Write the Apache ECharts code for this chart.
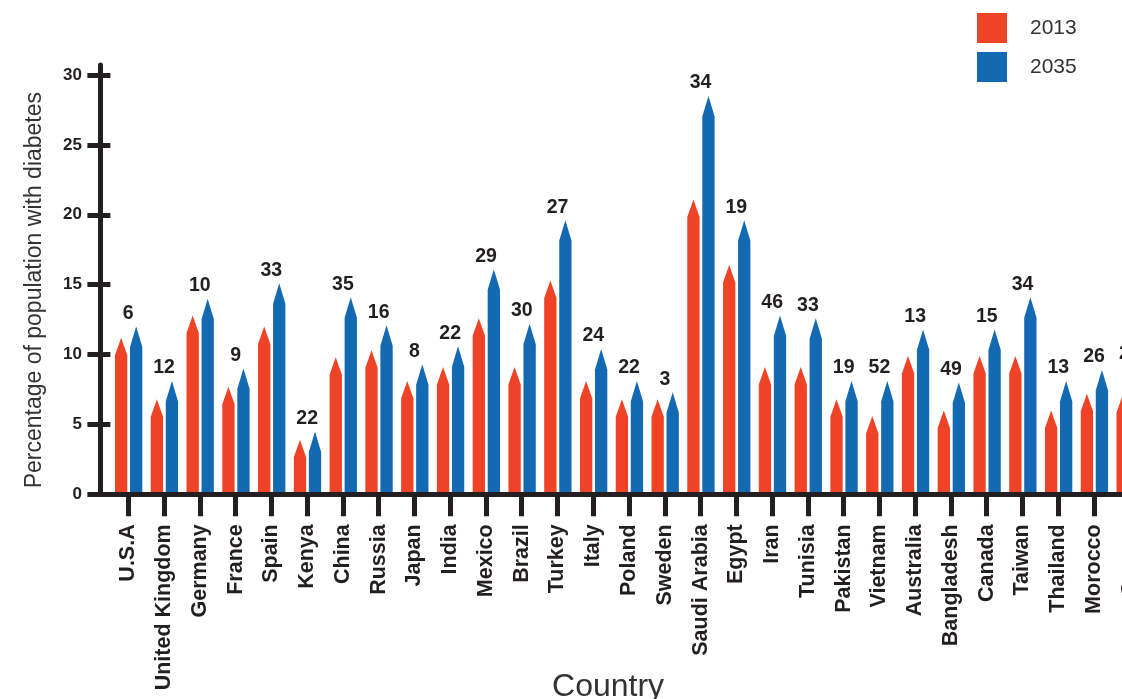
<!DOCTYPE html>
<html>
<head>
<meta charset="utf-8">
<title>Percentage of population with diabetes, 2013 and 2035</title>
<script src="https://cdn.jsdelivr.net/npm/echarts@6/dist/echarts.min.js"></script>
<style>
  html, body { margin: 0; padding: 0; background: #ffffff; }
  #chart { width: 1122px; height: 699px; }
</style>
</head>
<body>
<div id="chart"></div>
<script>
// Countries along the category axis
const countries = [
  'U.S.A', 'United Kingdom', 'Germany', 'France', 'Spain', 'Kenya', 'China',
  'Russia', 'Japan', 'India', 'Mexico', 'Brazil', 'Turkey', 'Italy', 'Poland',
  'Sweden', 'Saudi Arabia', 'Egypt', 'Iran', 'Tunisia', 'Pakistan', 'Vietnam',
  'Australia', 'Bangladesh', 'Canada', 'Taiwan', 'Thailand', 'Morocco', 'Greece'
];

// Percentage of population with diabetes (top of each arrow)
const pct2013 = [
  11.2, 6.8, 12.8, 7.7, 12.0, 3.9, 9.8,
  10.3, 8.1, 9.1, 12.6, 9.1, 15.3, 8.1, 6.8,
  6.8, 21.1, 16.4, 9.1, 9.1, 6.8, 5.6,
  9.9, 6.0, 9.9, 9.9, 6.0, 7.2, 7.1
];
const pct2035 = [
  12.0, 8.1, 14.0, 9.0, 15.1, 4.5, 14.1,
  12.1, 9.3, 10.6, 16.1, 12.2, 19.6, 10.4, 8.1,
  7.3, 28.5, 19.6, 12.8, 12.6, 8.1, 8.1,
  11.8, 8.0, 11.8, 14.1, 8.1, 8.9, 9.1
];

// Figures printed above each country's pair of arrows
const topLabels = [
  6, 12, 10, 9, 33, 22, 35,
  16, 8, 22, 29, 30, 27, 24, 22,
  3, 34, 19, 46, 33, 19, 52,
  13, 49, 15, 34, 13, 26, 24
];

// Value axis range and step
const yMin = 0;
const yMax = 30;
const yStep = 5;

const INK = '#231f20';
const RED = '#ef4328';
const BLUE = '#1469b3';
const FONT = '"Liberation Sans", Arial, Helvetica, sans-serif';

// Arrow-shaped bar: a rectangle topped by a triangle whose tip sits at the value
function arrowBar(offsetRatio, headPx, labels) {
  return function (params, api) {
    const idx = api.value(0);
    const val = api.value(1);
    const band = api.size([1, 0])[0];
    const w = band * 0.344;
    const base = api.coord([idx, 0]);
    const tip = api.coord([idx, val]);
    const cx = base[0] + band * offsetRatio;
    const head = Math.min(headPx, base[1] - tip[1]);
    const l = cx - w / 2;
    const r = cx + w / 2;
    const children = [{
      type: 'polygon',
      shape: {
        points: [
          [l, base[1]], [l, tip[1] + head], [cx, tip[1]],
          [r, tip[1] + head], [r, base[1]]
        ]
      },
      style: { fill: api.visual('color') }
    }];
    if (labels) {
      children.push({
        type: 'text',
        style: {
          text: String(labels[params.dataIndex]),
          x: base[0],
          y: tip[1] - 3,
          align: 'center',
          verticalAlign: 'bottom',
          fontSize: 19.5,
          fontWeight: 'bold',
          fontFamily: FONT,
          fill: INK
        }
      });
    }
    return { type: 'group', children: children };
  };
}

const chart = echarts.init(document.getElementById('chart'), null, { renderer: 'canvas' });

const option = {
  animation: false,
  backgroundColor: '#ffffff',
  legend: {
    orient: 'vertical',
    left: 972,
    top: 8,
    itemWidth: 30,
    itemHeight: 30,
    itemGap: 9,
    icon: 'rect',
    data: ['2013', '2035'],
    textStyle: { fontSize: 21, color: '#333333', fontFamily: FONT, padding: [0, 0, 0, 18] }
  },
  grid: [
    // frame: the two dark axis lines
    { left: 100, top: 65, bottom: 204.7, right: -60, outerBoundsMode: 'none', containLabel: false },
    // plotting area for the arrows
    { left: 110.4, top: 75, bottom: 204.7, right: -25.7, outerBoundsMode: 'none', containLabel: false }
  ],
  xAxis: [
    {
      gridIndex: 0, type: 'value', min: 0, max: 1, z: 5,
      axisLine: { show: true, lineStyle: { color: INK, width: 5 } },
      axisTick: { show: false }, axisLabel: { show: false }, splitLine: { show: false }
    },
    {
      gridIndex: 1, type: 'category', data: countries,
      axisLine: { show: false },
      axisTick: { show: true, alignWithLabel: true, length: 22, lineStyle: { color: INK, width: 5 } },
      axisLabel: {
        interval: 0, rotate: 90, margin: 30,
        fontSize: 21.5, fontWeight: 'bold', color: INK, fontFamily: FONT
      },
      name: 'Country',
      nameLocation: 'middle',
      nameGap: 177,
      nameMoveOverlap: false,
      nameTextStyle: { fontSize: 32, color: '#333333', fontFamily: FONT, padding: [0, 42, 0, 0] }
    }
  ],
  yAxis: [
    {
      gridIndex: 0, type: 'value', min: 0, max: 1,
      axisLine: { show: true, lineStyle: { color: INK, width: 5 } },
      axisTick: { show: false }, axisLabel: { show: false }, splitLine: { show: false }
    },
    {
      gridIndex: 1, type: 'value', min: yMin, max: yMax, interval: yStep,
      axisLine: { show: false },
      axisTick: { show: true, length: 23, lineStyle: { color: INK, width: 5 } },
      axisLabel: { margin: 28.5, fontSize: 17, fontWeight: 'bold', color: INK, fontFamily: FONT },
      splitLine: { show: false },
      name: 'Percentage of population with diabetes',
      nameLocation: 'middle',
      nameGap: 64,
      nameMoveOverlap: false,
      nameTextStyle: { fontSize: 23, color: '#333333', fontFamily: FONT, padding: [0, 11, 0, 0] }
    }
  ],
  series: [
    {
      name: '2013',
      type: 'custom',
      xAxisIndex: 1, yAxisIndex: 1,
      itemStyle: { color: RED },
      encode: { x: 0, y: 1 },
      renderItem: arrowBar(-0.2, 17.5, null),
      data: countries.map(function (c, i) { return [i, pct2013[i]]; })
    },
    {
      name: '2035',
      type: 'custom',
      xAxisIndex: 1, yAxisIndex: 1,
      itemStyle: { color: BLUE },
      encode: { x: 0, y: 1 },
      renderItem: arrowBar(0.22, 20.5, topLabels),
      data: countries.map(function (c, i) { return [i, pct2035[i]]; })
    }
  ]
};

chart.setOption(option);
</script>
</body>
</html>
